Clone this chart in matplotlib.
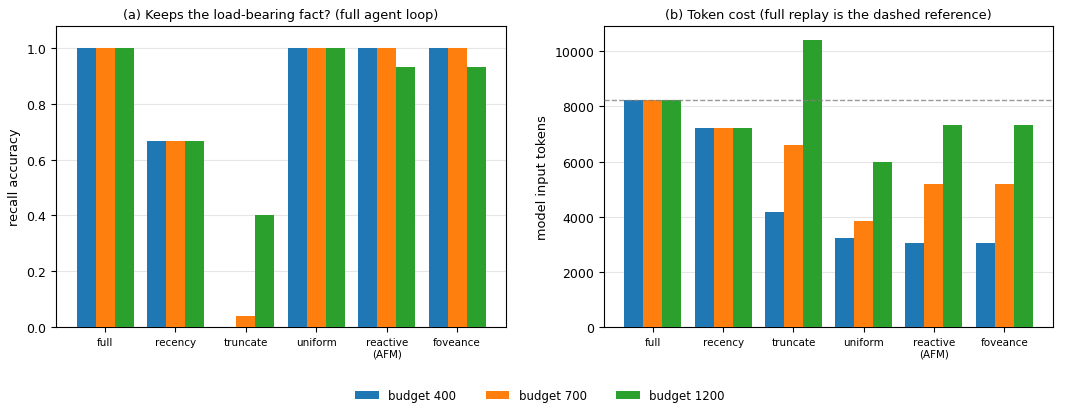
import matplotlib.pyplot as plt
import numpy as np

methods = ["full", "recency", "truncate", "uniform", "reactive\n(AFM)", "foveance"]
budgets = ["budget 400", "budget 700", "budget 1200"]
colors = ["#1f77b4", "#ff7f0e", "#2ca02c"]

# recall accuracy per method, one list per budget
acc_400 = [1.0, 0.667, 0.0, 1.0, 1.0, 1.0]
acc_700 = [1.0, 0.667, 0.04, 1.0, 1.0, 1.0]
acc_1200 = [1.0, 0.667, 0.4, 1.0, 0.933, 0.933]

# model input tokens
tok_400 = [8250, 7210, 4180, 3230, 3050, 3050]
tok_700 = [8250, 7210, 6590, 3850, 5200, 5200]
tok_1200 = [8250, 7210, 10400, 5975, 7320, 7320]
full_replay = 8250

x = np.arange(len(methods))
w = 0.27

fig = plt.figure(figsize=(10.8, 4.14), dpi=100)
ax1 = fig.add_axes([0.0519, 0.208, 0.4167, 0.727])
ax2 = fig.add_axes([0.5593, 0.208, 0.4157, 0.727])

for i, (vals, lab) in enumerate(zip([acc_400, acc_700, acc_1200], budgets)):
    ax1.bar(x + (i - 1) * w, vals, w, color=colors[i], label=lab, zorder=3)
for i, vals in enumerate([tok_400, tok_700, tok_1200]):
    ax2.bar(x + (i - 1) * w, vals, w, color=colors[i], zorder=3)

ax2.axhline(full_replay, color="grey", linestyle="--", linewidth=1, alpha=0.8, zorder=4)

ax1.set_ylim(0, 1.08)
ax1.set_title("(a) Keeps the load-bearing fact? (full agent loop)", fontsize=9.25)
ax1.set_ylabel("recall accuracy", fontsize=9.25)
ax2.set_title("(b) Token cost (full replay is the dashed reference)", fontsize=9.25)
ax2.set_ylabel("model input tokens", fontsize=9.25)

for ax in (ax1, ax2):
    ax.set_xticks(x)
    ax.set_xticklabels(methods, fontsize=7.5)
    ax.tick_params(axis="y", labelsize=9)
    ax.yaxis.grid(True, color="#e6e6e6", linewidth=0.8, zorder=0)
    ax.set_axisbelow(True)

handles, labels = ax1.get_legend_handles_labels()
fig.legend(handles, labels, loc="lower center", ncol=3, frameon=False,
           fontsize=8.5, bbox_to_anchor=(0.5, 0.0), columnspacing=2.5)

fig.savefig("out.png", dpi=100)
